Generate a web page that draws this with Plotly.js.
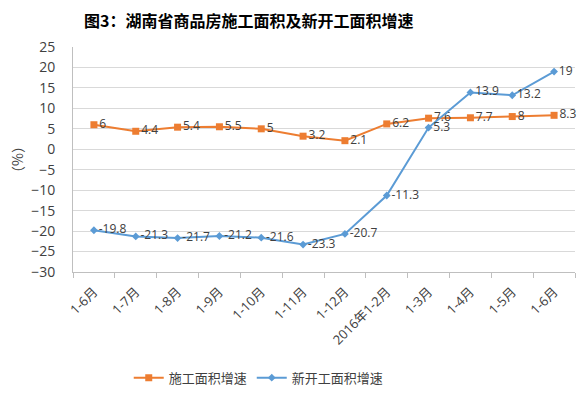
<!DOCTYPE html>
<html>
<head>
<meta charset="utf-8">
<script src="https://cdn.plot.ly/plotly-3.0.1.min.js"></script>
<style>html,body{margin:0;padding:0;background:#fff;}#chart{width:583px;height:395px;}</style>
</head>
<body>
<div id="chart"></div>
<script>
const categories = ["1-6月","1-7月","1-8月","1-9月","1-10月","1-11月","1-12月","2016年1-2月","1-3月","1-4月","1-5月","1-6月"];
const constructionGrowth = [6, 4.4, 5.4, 5.5, 5, 3.2, 2.1, 6.2, 7.6, 7.7, 8, 8.3];
const newStartGrowth = [-19.8, -21.3, -21.7, -21.2, -21.6, -23.3, -20.7, -11.3, 5.3, 13.9, 13.2, 19];
const seriesNames = ["施工面积增速", "新开工面积增速"];
const yTicks = [25,20,15,10,5,0,-5,-10,-15,-20,-25,-30];

const idx = categories.map((c, i) => i);
const baseFont = "Open Sans, Noto Sans CJK SC, sans-serif";

const traces = [
  {
    x: idx, y: constructionGrowth, name: seriesNames[0], type: "scatter", mode: "lines+markers+text",
    line: {color: "#ED7D31", width: 2},
    marker: {color: "#ED7D31", symbol: "square", size: 7},
    text: constructionGrowth.map(String), textposition: "middle right",
    textfont: {size: 12, color: "#404040", family: baseFont},
    cliponaxis: false
  },
  {
    x: idx, y: newStartGrowth, name: seriesNames[1], type: "scatter", mode: "lines+markers+text",
    line: {color: "#5B9BD5", width: 2},
    marker: {color: "#5B9BD5", symbol: "diamond", size: 6},
    text: newStartGrowth.map(String), textposition: "middle right",
    textfont: {size: 12, color: "#404040", family: baseFont},
    cliponaxis: false
  }
];

const layout = {
  width: 583, height: 395,
  margin: {l: 73, r: 8, t: 47, b: 123, autoexpand: false},
  paper_bgcolor: "#fff", plot_bgcolor: "#fff",
  font: {family: baseFont, color: "#404040"},
  title: {
    text: "图3：湖南省商品房施工面积及新开工面积增速",
    font: {family: "Noto Sans CJK SC, sans-serif", size: 16, color: "#000", weight: "bold"},
    x: 0.35, xref: "paper", xanchor: "center", y: 0.945, yanchor: "middle"
  },
  xaxis: {
    type: "linear", range: [-0.5, 11.5], automargin: false,
    tickvals: idx, ticktext: categories, tickangle: -45,
    ticks: "outside", ticklen: 6, tickcolor: "rgba(0,0,0,0)",
    showgrid: false, zeroline: false,
    showline: true, linecolor: "#BFBFBF", linewidth: 1,
    tickfont: {size: 13, color: "#404040"},
    minor: {ticks: "outside", tick0: -0.5, dtick: 1, ticklen: 5, tickcolor: "#BFBFBF", showgrid: false},
    fixedrange: true
  },
  yaxis: {
    range: [-30, 25], tickvals: yTicks, automargin: false,
    ticks: "outside", ticklen: 14, tickcolor: "rgba(0,0,0,0)",
    showgrid: true, gridcolor: "#D9D9D9", gridwidth: 1,
    zeroline: true, zerolinecolor: "#D9D9D9", zerolinewidth: 1,
    showline: true, linecolor: "#BFBFBF", linewidth: 1,
    tickfont: {size: 14, color: "#404040"},
    title: {text: "（%）", font: {size: 14, color: "#404040", family: "Noto Sans CJK SC, sans-serif"}, standoff: 4},
    fixedrange: true
  },
  showlegend: true,
  legend: {
    orientation: "h", x: 0.37, xanchor: "center", y: -0.47, yanchor: "middle",
    font: {size: 13, color: "#404040", family: "Noto Sans CJK SC, sans-serif"},
    traceorder: "normal", itemwidth: 30
  }
};

Plotly.newPlot("chart", traces, layout, {displayModeBar: false, staticPlot: true});
</script>
</body>
</html>
